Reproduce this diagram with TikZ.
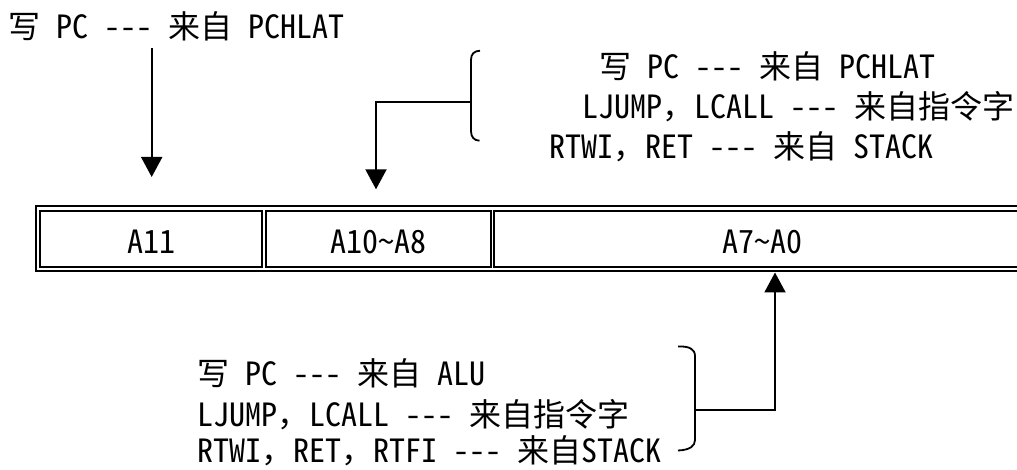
\documentclass[tikz,border=0pt]{standalone}
\usepackage{fontspec}
\usetikzlibrary{arrows.meta}
\IfFontExistsTF{Noto Sans Mono CJK SC}{%
  \setmainfont{Noto Sans Mono CJK SC}%
  \newfontfamily\cjkf{Noto Sans Mono CJK SC}%
}{%
  \setmainfont{DejaVu Sans Mono}[FakeStretch=0.83]%
  \newfontfamily\cjkf{Noto Sans CJK SC}%
}
\newcommand\C[1]{{\cjkf #1}}
\newcommand\dsh{\hbox{-}\hbox{-}\hbox{-}}
\begin{document}
\begin{tikzpicture}[x=1pt,y=-1pt,
  every node/.style={font=\fontsize{32}{38}\selectfont, inner sep=0pt, outer sep=0pt},
  lbl/.style={anchor=base west},
  celllbl/.style={anchor=base},
  cellbox/.style={draw, line width=2pt, minimum height=56pt, anchor=north west},
  regbox/.style={draw, line width=2pt, minimum height=65pt, anchor=north west},
  conn/.style={line width=2pt},
  arr/.style={conn, -{Triangle[length=20pt,width=21pt]}},
  bracepath/.style={line width=1.8pt}]
\clip (0,0) rectangle (1017,470);
% register
\node[regbox, minimum width=1050pt] (reg) at (36,206.3) {};
\node[cellbox, minimum width=221.7pt] (c1) at (40.3,211) {};
\node[cellbox, minimum width=225.3pt] (c2) at (265.7,211) {};
\node[cellbox, minimum width=560pt] (c3) at (494.3,211) {};
\node[celllbl] (l1) at (151.7,253.3) {A11};
\node[celllbl] (l2) at (378,253.3) {A10\textasciitilde A8};
\node[celllbl] (l3) at (762,253.3) {A7\textasciitilde A0};
% texts
\node[lbl] (t1) at (9,38.3) {\C{写} PC \dsh{} \C{来自} PCHLAT};
\node[lbl] (t2a) at (599,78.3) {\C{写} PC \dsh{} \C{来自} PCHLAT};
\node[lbl] (t2b) at (582,118.3) {LJUMP\C{，}LCALL \dsh{} \C{来自指令字}};
\node[lbl] (t2c) at (549,158.3) {RTWI\C{，}RET \dsh{} \C{来自} STACK};
\node[lbl] (t3a) at (197,385) {\C{写} PC \dsh{} \C{来自} ALU};
\node[lbl] (t3b) at (197,426) {LJUMP\C{，}LCALL \dsh{} \C{来自指令字}};
\node[lbl] (t3c) at (197.5,462.7) {RTWI\C{，}RET\C{，}RTFI \dsh{} \C{来自}STACK};
% braces
\draw[bracepath] (480,50.7) .. controls (474,51) and (471,54) .. (471,60) -- (471,131) .. controls (471,137) and (474,140.5) .. (479.5,140.7);
\draw[bracepath] (678,346.5) .. controls (689,346) and (695,349) .. (695,356) -- (695,440) .. controls (695,446) and (690,450) .. (678,450.5);
% connectors
\coordinate (a1s) at (151.7,48);
\coordinate (a1e) at (151.7,177);
\coordinate (b1m) at (471,102);
\coordinate (a2e) at (376,189.3);
\coordinate (b2m) at (695,410);
\coordinate (a3e) at (775,272.5);
\draw[arr] (a1s) -- (a1e);
\draw[arr] (b1m) -| (a2e);
\draw[arr] (b2m) -| (a3e);
\end{tikzpicture}
\end{document}
